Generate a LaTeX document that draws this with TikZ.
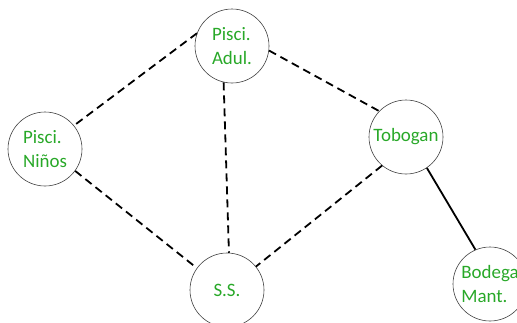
\documentclass[tikz,border=0pt]{standalone}
\usepackage{fontspec}
\setmainfont{Carlito}
\definecolor{labelgreen}{RGB}{40,168,40}
\begin{document}
\begin{tikzpicture}[x=1bp,y=-1bp,
        zone/.style={circle,draw=black!75,line width=0.6bp,minimum size=74bp,inner sep=0pt,
            align=left,text=labelgreen,font=\fontsize{19}{24}\selectfont},
        path/.style={line width=1.8bp,dash pattern=on 8bp off 5bp},
        service/.style={line width=1.8bp}]
        \clip (0,0) rectangle (517,322);
        \node[zone] (adul) at (232,46) {Pisci.\\Adul.};
        \node[zone] (ninos) at (45,149) {Pisci.\\Niños};
        \node[zone] (tobogan) at (406,137) {Tobogan};
        \node[zone] (ss) at (227,290) {S.S.};
        \node[zone] (bodega) at (490,284) {Bodega\\Mant.};
        \draw[path] (adul.160) -- (ninos.39);
        \draw[path] (adul.353) -- (tobogan.136);
        \draw[path] (adul.257) -- (ss.87);
        \draw[path] (ninos.324) -- (ss.144);
        \draw[path] (tobogan.230) -- (ss.39);
        \draw[service] (tobogan.304) -- (bodega.113);
    \end{tikzpicture}
\end{document}
